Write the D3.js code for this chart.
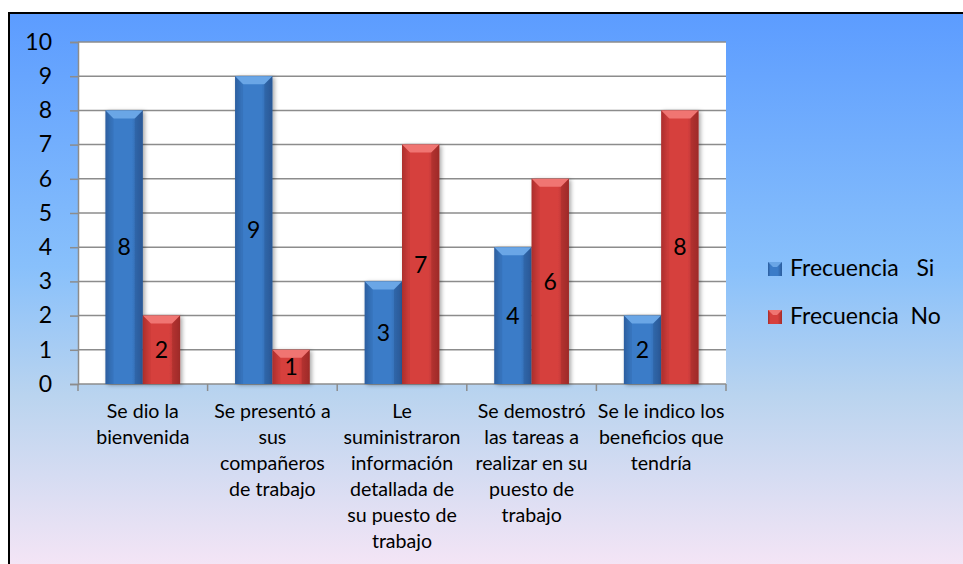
<!DOCTYPE html>
<html>
<head>
<meta charset="utf-8">
<script src="https://cdn.jsdelivr.net/npm/d3@7"></script>
<style>
  html, body { margin: 0; padding: 0; background: #ffffff; }
  svg { display: block; }
  text { font-family: Lato, "Open Sans", sans-serif; fill: #000; }
</style>
</head>
<body>
<svg id="chart" width="963" height="564"></svg>
<script>
// Survey results: frequency of "Si" / "No" answers per onboarding question
const categories = [
  ["Se dio la", "bienvenida"],
  ["Se presentó a", "sus", "compañeros", "de trabajo"],
  ["Le", "suministraron", "información", "detallada de", "su puesto de", "trabajo"],
  ["Se demostró", "las tareas a", "realizar en su", "puesto de", "trabajo"],
  ["Se le indico los", "beneficios que", "tendría"]
];
const seriesNames = ["Frecuencia   Si", "Frecuencia  No"];
const frecuenciaSi = [8, 9, 3, 4, 2];
const frecuenciaNo = [2, 1, 7, 6, 8];
const yTicks = [0, 1, 2, 3, 4, 5, 6, 7, 8, 9, 10];

const svg = d3.select("#chart");
const W = 963, H = 564;
const plot = { left: 78, top: 42, right: 726, bottom: 384 };

const defs = svg.append("defs");

// Frame background: blue at top fading to lavender at bottom
const bg = defs.append("linearGradient").attr("id", "bg")
  .attr("x1", 0).attr("y1", 0).attr("x2", 0).attr("y2", 1);
[["0%", "#5c9cff"], ["45%", "#88c0fb"], ["68%", "#bad4ef"], ["100%", "#f8e6f6"]]
  .forEach(([o, c]) => bg.append("stop").attr("offset", o).attr("stop-color", c));

// Bar body gradients (darker toward the edges)
function barGradient(id, edge, mid) {
  const g = defs.append("linearGradient").attr("id", id)
    .attr("x1", 0).attr("y1", 0).attr("x2", 1).attr("y2", 0);
  [["0%", edge], ["18%", mid], ["70%", mid], ["100%", edge]]
    .forEach(([o, c]) => g.append("stop").attr("offset", o).attr("stop-color", c));
}
barGradient("gSi", "#2b5c9c", "#3b7cc8");
barGradient("gNo", "#a52c2a", "#d6403e");

const shadow = defs.append("filter").attr("id", "shadow")
  .attr("x", "-20%").attr("y", "-10%").attr("width", "150%").attr("height", "130%");
shadow.append("feDropShadow").attr("dx", 2).attr("dy", 1).attr("stdDeviation", 2)
  .attr("flood-color", "#000").attr("flood-opacity", 0.35);

svg.append("rect").attr("x", 9).attr("y", 13).attr("width", W).attr("height", H)
  .attr("fill", "url(#bg)").attr("stroke", "#000").attr("stroke-width", 2);

// Scales
const x0 = d3.scaleBand().domain(d3.range(categories.length))
  .range([plot.left, plot.right]).paddingInner(0).paddingOuter(0);
const bw = x0.bandwidth();
const x1 = d3.scaleBand().domain([0, 1]).range([bw * 0.212, bw * 0.788]);
const y = d3.scaleLinear().domain([0, 10]).range([plot.bottom, plot.top]);

// Plot area
svg.append("rect").attr("x", plot.left).attr("y", plot.top)
  .attr("width", plot.right - plot.left).attr("height", plot.bottom - plot.top)
  .attr("fill", "#ffffff");

// Gridlines
svg.append("g").selectAll("line").data(yTicks.filter(d => d > 0)).join("line")
  .attr("x1", plot.left).attr("x2", plot.right)
  .attr("y1", d => y(d)).attr("y2", d => y(d))
  .attr("stroke", "#8c8c8c").attr("stroke-width", 1.5);

// Y axis
const yAxis = svg.append("g").attr("transform", `translate(${plot.left},0)`)
  .call(d3.axisLeft(y).tickValues(yTicks).tickSize(8).tickPadding(18));
yAxis.select(".domain").attr("stroke", "#8c8c8c").attr("stroke-width", 1.5);
yAxis.selectAll(".tick line").attr("stroke", "#8c8c8c").attr("stroke-width", 1.5);
yAxis.selectAll(".tick text").attr("font-family", "Lato, sans-serif")
  .attr("font-size", 23).attr("fill", "#000");

// X axis with category boundary ticks
const xAxisG = svg.append("g");
xAxisG.append("line").attr("x1", plot.left).attr("x2", plot.right)
  .attr("y1", plot.bottom).attr("y2", plot.bottom)
  .attr("stroke", "#8c8c8c").attr("stroke-width", 1.5);
xAxisG.selectAll("line.tk").data(d3.range(categories.length + 1)).join("line")
  .attr("class", "tk")
  .attr("x1", i => plot.left + i * bw).attr("x2", i => plot.left + i * bw)
  .attr("y1", plot.bottom).attr("y2", plot.bottom + 7)
  .attr("stroke", "#8c8c8c").attr("stroke-width", 1.5);

// Category labels
const catG = svg.append("g").selectAll("text").data(categories).join("text")
  .attr("text-anchor", "middle").attr("font-size", 19.6)
  .attr("transform", (d, i) => `translate(${x0(i) + bw / 2},418)`);
catG.selectAll("tspan").data(d => d).join("tspan")
  .attr("x", 0).attr("y", (d, j) => j * 26).text(d => d);

// Bars
const series = [
  { name: seriesNames[0], values: frecuenciaSi, fill: "url(#gSi)", top: "#6aa6e6", side: "#2e63a6", dark: "#24508a" },
  { name: seriesNames[1], values: frecuenciaNo, fill: "url(#gNo)", top: "#f07572", side: "#b83432", dark: "#8f2422" }
];

const bevel = 8;
series.forEach((s, si) => {
  const g = svg.append("g");
  s.values.forEach((v, ci) => {
    const bx = x0(ci) + x1(si);
    const w = x1.bandwidth();
    const by = y(v);
    const bh = plot.bottom - by;
    const bar = g.append("g");
    bar.append("rect").attr("x", bx).attr("y", by).attr("width", w).attr("height", bh)
      .attr("fill", s.fill).attr("filter", "url(#shadow)");
    // bevelled top edge
    const b = Math.min(bevel, bh / 2);
    bar.append("path")
      .attr("d", `M${bx},${by}L${bx + w},${by}L${bx + w - b},${by + b}L${bx + b},${by + b}Z`)
      .attr("fill", s.top);
    bar.append("path")
      .attr("d", `M${bx},${by}L${bx + b},${by + b}L${bx + b},${by + bh}L${bx},${by + bh}Z`)
      .attr("fill", s.side).attr("opacity", 0.35);
    bar.append("path")
      .attr("d", `M${bx + w},${by}L${bx + w - b},${by + b}L${bx + w - b},${by + bh}L${bx + w},${by + bh}Z`)
      .attr("fill", s.dark).attr("opacity", 0.35);
    // value label
    bar.append("text").attr("x", bx + w / 2).attr("y", (by + plot.bottom) / 2)
      .attr("dy", "0.36em").attr("text-anchor", "middle").attr("font-size", 23)
      .text(v);
  });
});

// Legend
const legend = svg.append("g");
series.forEach((s, i) => {
  const ly = 262 + i * 48;
  const lg = legend.append("g");
  lg.append("rect").attr("x", 768).attr("y", ly).attr("width", 14).attr("height", 14)
    .attr("fill", s.fill);
  lg.append("path")
    .attr("d", `M768,${ly}L782,${ly}L777,${ly + 5}L773,${ly + 5}Z`).attr("fill", s.top);
  lg.append("text").attr("x", 790).attr("y", ly + 14).attr("font-size", 23)
    .attr("xml:space", "preserve").style("white-space", "pre").text(s.name);
});
</script>
</body>
</html>
